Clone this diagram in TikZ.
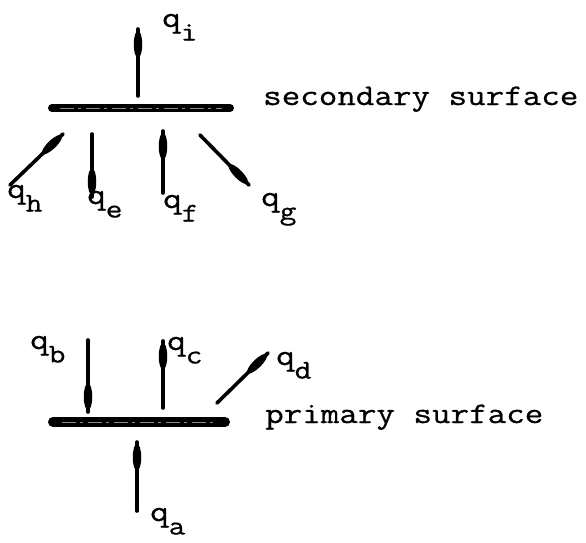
\documentclass[tikz,border=0pt]{standalone}
\usepackage{fontspec}
\newfontfamily\tw[FakeStretch=1.2,FakeBold=0.7]{Latin Modern Mono}
\usetikzlibrary{shapes.geometric}
\newcommand\qsub[1]{q\raisebox{-0.45em}{\fontsize{27}{27}\selectfont #1}}
\tikzset{
  flux/.style={line width=3.6pt,line cap=round},
  blob/.style={ellipse,fill=black,draw=none,inner sep=0pt,minimum width=27pt,minimum height=8.5pt,sloped,pos=1,anchor=east},
  lbl/.style={font=\tw\fontsize{30}{30}\selectfont,inner sep=0pt,anchor=base west},
  surf/.style={line cap=round,draw=black},
  sheen/.style={line width=0.6pt,black!45,dash pattern=on 14pt off 4pt on 3pt off 5pt},
}
\begin{document}
\begin{tikzpicture}[x=1pt,y=-1pt]
\useasboundingbox[fill=white] (0,0) rectangle (586,542);
% secondary surface
\coordinate (s1) at (52,108);
\coordinate (s2) at (230,108);
\draw[surf,line width=8pt] (s1) -- (s2);
\draw[sheen] (60,108) -- (222,108);
\node[lbl] (sectext) at (263,105) {secondary surface};
% arrows secondary
\coordinate (it) at (138,96); \coordinate (ih) at (138,29);
\draw[flux] (it) -- (ih) node[blob] (hi) {};
\node[lbl] (qi) at (162,27) {\qsub{i}};
\coordinate (ht) at (10,185); \coordinate (hh) at (63,134);
\draw[flux] (ht) -- (hh) node[blob] (hhh) {};
\node[lbl] (qh) at (7,198) {\qsub{h}};
\coordinate (et) at (92,134); \coordinate (eh) at (92,197);
\draw[flux] (et) -- (eh) node[blob] (he) {};
\node[lbl] (qe) at (87,204) {\qsub{e}};
\coordinate (ft) at (163,193); \coordinate (fh) at (163,131);
\draw[flux] (ft) -- (fh) node[blob] (hf) {};
\node[lbl] (qf) at (163,208) {\qsub{f}};
\coordinate (gt) at (200,135); \coordinate (gh) at (249,185);
\draw[flux] (gt) -- (gh) node[blob] (hg) {};
\node[lbl] (qg) at (261,206) {\qsub{g}};
% primary surface
\coordinate (p1) at (53,422);
\coordinate (p2) at (225,422);
\draw[surf,line width=10pt] (p1) -- (p2);
\draw[sheen] (62,422) -- (216,422);
\node[lbl] (pritext) at (265,423) {primary surface};
% arrows primary
\coordinate (bt) at (88,340); \coordinate (bh) at (88,412);
\draw[flux] (bt) -- (bh) node[blob] (hb) {};
\node[lbl] (qb) at (30,349) {\qsub{b}};
\coordinate (ct) at (163,408); \coordinate (ch) at (163,341);
\draw[flux] (ct) -- (ch) node[blob] (hc) {};
\node[lbl] (qc) at (167,350) {\qsub{c}};
\coordinate (dt) at (217,403); \coordinate (dh) at (268,353);
\draw[flux] (dt) -- (dh) node[blob] (hd) {};
\node[lbl] (qd) at (276,365) {\qsub{d}};
\coordinate (at) at (137,511); \coordinate (ah) at (137,442);
\draw[flux] (at) -- (ah) node[blob] (ha) {};
\node[lbl] (qa) at (150,521) {\qsub{a}};
\end{tikzpicture}
\end{document}
